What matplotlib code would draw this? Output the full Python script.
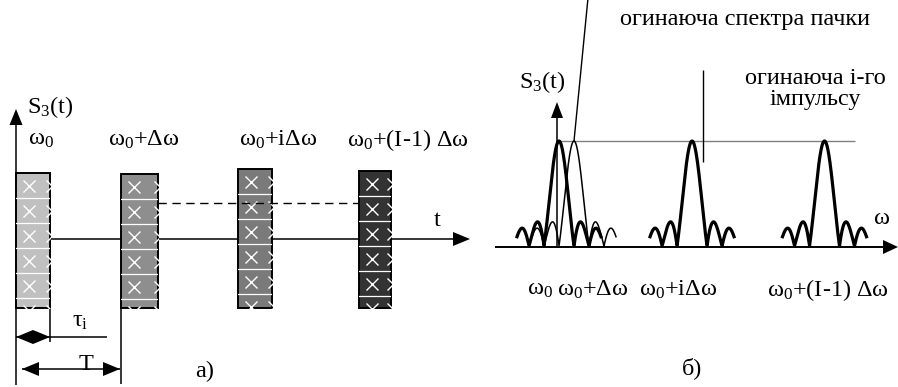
import numpy as np
import matplotlib.pyplot as plt
from matplotlib.patches import Rectangle, Polygon

plt.rcParams['font.family'] = 'Liberation Serif'
plt.rcParams['mathtext.fontset'] = 'custom'
plt.rcParams['mathtext.rm'] = 'Liberation Serif'
plt.rcParams['mathtext.it'] = 'Liberation Serif'
plt.rcParams['font.size'] = 17.5

# %% data
pulse_labels = ['ω$_0$', 'ω$_0$+Δω', 'ω$_0$+iΔω', 'ω$_0$+(I-1) Δω']
pulse_shades = ['#c0c0c0', '#8e8e8e', '#7a7a7a', '#333333']

peak_offsets = [0, 1, 8.87, 17.7]        # spectrum peaks, in units of Δω
peak_heavy = [True, False, True, True]   # thin line = envelope of the burst
lobe_levels = [1.0, 0.23, 0.17]          # main lobe, 1st and 2nd side lobe
spectrum_labels = ['ω$_0$', 'ω$_0$+Δω', 'ω$_0$+iΔω', 'ω$_0$+(I-1) Δω']

# %% layout (pixels of the 898x387 canvas)
pulse_left = [16, 121, 238, 359]
pulse_width = [34, 37, 34, 32]
pulse_top = [173, 174, 169, 171]
pulse_bottom = 308
pulse_label_x = [41, 144, 278, 408]
spec_label_x = [540, 593, 678, 828]

fig = plt.figure(figsize=(8.98, 3.87), dpi=100)
ax = fig.add_axes([0, 0, 1, 1])
ax.set_xlim(0, 898)
ax.set_ylim(387, 0)
ax.axis('off')


def head(tip, d, length=16, half=6.5):
    tip = np.array(tip, float)
    d = np.array(d, float) / np.hypot(*d)
    n = np.array([-d[1], d[0]])
    base = tip - d * length
    ax.add_patch(Polygon([tip, base + n * half, base - n * half], closed=True,
                         facecolor='k', edgecolor='none', zorder=6))


def line(xs, ys, **kw):
    kw.setdefault('color', 'k')
    kw.setdefault('lw', 1.1)
    ax.plot(xs, ys, solid_capstyle='butt', **kw)


# %% panel a)
line([16, 16], [385, 120])
head((16, 109), (0, -1))
line([50, 458], [239, 239], zorder=1)
head((470, 239), (1, 0), length=17, half=7)

for x0, w, top, shade in zip(pulse_left, pulse_width, pulse_top, pulse_shades):
    h = pulse_bottom - top
    r = Rectangle((x0, top), w, h, facecolor=shade, edgecolor='k', lw=1.4, zorder=3)
    ax.add_patch(r)
    for k in range(1, 6):
        ln, = ax.plot([x0, x0 + w], [top + 25 * k] * 2, color='white', lw=0.9, zorder=4)
        ln.set_clip_path(r)
    for dx in (13, w + 2):
        ys = top + 13 + 25 * np.arange(6)
        mk, = ax.plot([x0 + dx] * 6, ys, ls='none', marker='x', ms=8, mew=1.0,
                      color='white', zorder=4)
        mk.set_clip_path(r)

line([158, 359], [203, 203], lw=1.0, dashes=(6, 4), zorder=5)

for x, lab in zip(pulse_label_x, pulse_labels):
    ax.text(x, 140, lab, ha='center', va='center')
ax.text(50, 107, 'S$_3$(t)', ha='center', va='center')
ax.text(437, 221, 't', ha='center', va='center')

line([50, 50], [308, 342])
line([121, 121], [308, 384])
line([16, 107], [337, 337])
head((16, 337), (-1, 0), length=17, half=7)
head((50, 337), (1, 0), length=17, half=7)
line([22, 120], [369, 369])
head((22, 369), (-1, 0), length=17, half=7)
head((120, 369), (1, 0), length=17, half=7)
ax.text(80, 322, 'τ$_{\\rm i}$', ha='center', va='center')
ax.text(86, 370, 'T', ha='center', va='baseline')
ax.text(205, 371, 'а)', ha='center', va='center')

# %% panel б)
line([495, 885], [247, 247], lw=1.4)
head((898, 247), (1, 0), length=15, half=7)
line([557, 557], [247, 115])
head((557, 102), (0, -1), length=16, half=6)
line([557, 855], [141, 141], color='#808080', lw=1.0)
line([588, 574], [-2, 141], lw=1.0)
line([703, 703], [70, 162], lw=1.0)

# spectrum axes: x in units of Δω, y in relative amplitude
ax_s = fig.add_axes([500 / 898, (387 - 246) / 387, 398 / 898, 105 / 387])
ax_s.set_xlim((500 - 559) / 15, (898 - 559) / 15)
ax_s.set_ylim(0, 1)
ax_s.axis('off')
ax_s.patch.set_alpha(0)

u = np.linspace(-2.8, 2.8, 600)
base = np.abs(np.sinc(u))
natural = [base[(np.abs(u) >= k) & (np.abs(u) < k + 1)].max() for k in range(3)]
gain = np.array([lobe_levels[k] / natural[k] for k in range(3)])
env = base * gain[np.minimum(np.floor(np.abs(u)).astype(int), 2)]
for c, heavy in zip(peak_offsets, peak_heavy):
    ax_s.plot(c + u, env, color='k', lw=2.3 if heavy else 1.1, clip_on=False,
              solid_joinstyle='round')

ax.text(542, 82, 'S$_3$(t)', ha='center', va='center')
ax.text(882, 219, 'ω', ha='center', va='center')
ax.text(745, 20, 'огинаюча спектра пачки', ha='center', va='center')
ax.text(815, 78, 'огинаюча і-го', ha='center', va='center')
ax.text(815, 100, 'імпульсу', ha='center', va='center')
for x, lab in zip(spec_label_x, spectrum_labels):
    ax.text(x, 290, lab, ha='center', va='center')
ax.text(692, 368, 'б)', ha='center', va='center')

fig.savefig('out.png', dpi=100)
